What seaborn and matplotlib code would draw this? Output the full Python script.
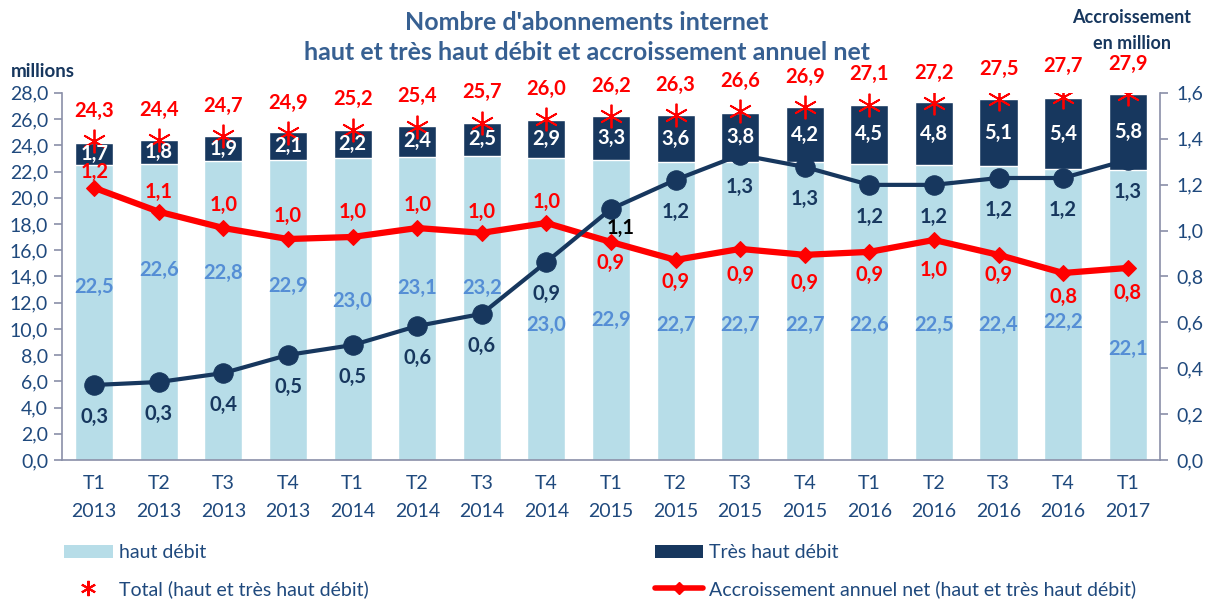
import numpy as np
import pandas as pd
import matplotlib
matplotlib.use("Agg")
import matplotlib.pyplot as plt
import seaborn as sns
from matplotlib.patches import Patch
from matplotlib.lines import Line2D

# ============================================================================
# DATA
# ============================================================================
quarters = ['T1', 'T2', 'T3', 'T4', 'T1', 'T2', 'T3', 'T4', 'T1', 'T2', 'T3', 'T4',
            'T1', 'T2', 'T3', 'T4', 'T1']
years = ['2013'] * 4 + ['2014'] * 4 + ['2015'] * 4 + ['2016'] * 4 + ['2017']
haut_debit = [22.5, 22.6, 22.8, 22.9, 23.0, 23.1, 23.2, 23.0, 22.9, 22.7, 22.7, 22.7,
              22.6, 22.5, 22.4, 22.2, 22.1]
tres_haut_debit = [1.7, 1.8, 1.9, 2.1, 2.2, 2.4, 2.5, 2.9, 3.3, 3.6, 3.8, 4.2,
                   4.5, 4.8, 5.1, 5.4, 5.8]
total = [24.3, 24.4, 24.7, 24.9, 25.2, 25.4, 25.7, 26.0, 26.2, 26.3, 26.6, 26.9,
         27.1, 27.2, 27.5, 27.7, 27.9]
accr_net = [1.186, 1.082, 1.011, 0.963, 0.972, 1.011, 0.990, 1.033, 0.950, 0.872,
            0.920, 0.894, 0.907, 0.959, 0.894, 0.815, 0.837]
accr_net_lbl = ['1,2', '1,1', '1,0', '1,0', '1,0', '1,0', '1,0', '1,0', '0,9', '0,9',
                '0,9', '0,9', '0,9', '1,0', '0,9', '0,8', '0,8']
accr_thd = [0.327, 0.340, 0.379, 0.458, 0.501, 0.584, 0.637, 0.863, 1.094, 1.221,
            1.330, 1.277, 1.199, 1.199, 1.229, 1.229, 1.308]
accr_thd_lbl = ['0,3', '0,3', '0,4', '0,5', '0,5', '0,6', '0,6', '0,9', '1,1', '1,2',
                '1,3', '1,3', '1,2', '1,2', '1,2', '1,2', '1,3']

# label placement (style only, pixels; negative = above the point)
hd_label_y = [13.2, 14.5, 14.3, 13.3, 12.1, 13.1, 13.1, 10.3, 10.7, 10.3, 10.3, 10.3,
              10.3, 10.3, 10.3, 10.5, 8.5]
net_offsets = [-16, -20, -23, -23, -25, -23, -21, -21, 21, 22, 26, 28, 23, 30, 20, 24, 25]

LIGHT = '#B7DDE8'
NAVY = '#17375E'
RED = '#FF0000'
TXT = '#1F497D'
TITLE = '#376092'
HD_TXT = '#558ED5'
AXC = '#8A8FA8'
FS = 14.5

def fmt(v):
    return f'{v:.1f}'.replace('.', ',')

sns.set_style("white")
plt.rcParams['font.family'] = ['Lato', 'DejaVu Sans']

cats = [f'{q}\n{y}' for q, y in zip(quarters, years)]
df = pd.DataFrame({'cat': cats, 'hd': haut_debit, 'thd': tres_haut_debit, 'total': total})
x = np.arange(len(cats))

fig = plt.figure(figsize=(12.1, 5.99), dpi=100)
ax = fig.add_axes([0.0512, 0.232, 0.9075, 0.613])

# stacked bars: full height in navy, then haut debit in light blue over it
df['stack'] = df['hd'] + df['thd']
sns.barplot(data=df, x='cat', y='stack', color=NAVY, saturation=1, width=0.59, ax=ax)
sns.barplot(data=df, x='cat', y='hd', color=LIGHT, saturation=1, width=0.59, ax=ax)

# totals
ax.plot(x, total, ls='none', marker=(6, 2, 0), ms=17, mew=1.3, color=RED, zorder=2)
for i, t in enumerate(total):
    ax.annotate(fmt(t), (i, t), xytext=(0, 22), textcoords='offset points',
                ha='center', va='center', color=RED, fontsize=FS, fontweight='bold')
for i in range(len(cats)):
    ax.text(i, haut_debit[i] + tres_haut_debit[i] / 2, fmt(tres_haut_debit[i]),
            ha='center', va='center', color='white', fontsize=FS, fontweight='bold', zorder=3)
    ax.text(i, hd_label_y[i], fmt(haut_debit[i]), ha='center', va='center',
            color=HD_TXT, fontsize=FS, fontweight='bold')

ax.set_xlim(-0.5, len(cats) - 0.5)
ax.set_ylim(0, 28)
ax.set_yticks(np.arange(0, 28.1, 2))
ax.set_yticklabels([fmt(v) for v in np.arange(0, 28.1, 2)])
ax.set_xlabel('')
ax.set_ylabel('')
ax.set_xticks(np.arange(-0.5, len(cats), 1), minor=True)
ax.tick_params(axis='x', which='major', length=0, pad=11, labelsize=14, labelcolor=TXT)
for lbl in ax.get_xticklabels():
    lbl.set_linespacing(1.75)
ax.tick_params(axis='x', which='minor', length=7, width=1.2, color=AXC, direction='out')
ax.tick_params(axis='y', length=6, width=1.2, color=AXC, direction='out',
               labelsize=14, labelcolor=TXT, pad=4)
for s in ['top', 'right']:
    ax.spines[s].set_visible(False)
for s in ['left', 'bottom']:
    ax.spines[s].set_color(AXC)
    ax.spines[s].set_linewidth(1.2)

# right axis: accroissements
ax2 = ax.twinx()
sns.lineplot(x=x, y=accr_net, color=RED, lw=4.5, marker='D', ms=8, mec=RED, ax=ax2, zorder=3)
sns.lineplot(x=x, y=accr_thd, color=NAVY, lw=3, marker='o', ms=14, mec=NAVY, ax=ax2, zorder=4)
for i, v in enumerate(accr_thd):
    if i == 8:
        ax2.annotate(accr_thd_lbl[i], (i, v), xytext=(7, -14), textcoords='offset points',
                     ha='center', va='center', color='black', fontsize=FS, fontweight='bold')
    else:
        ax2.annotate(accr_thd_lbl[i], (i, v), xytext=(0, -23), textcoords='offset points',
                     ha='center', va='center', color=NAVY, fontsize=FS, fontweight='bold')
for i, v in enumerate(accr_net):
    ax2.annotate(accr_net_lbl[i], (i, v), xytext=(0, -net_offsets[i] * 0.72),
                 textcoords='offset points', ha='center', va='center', color=RED,
                 fontsize=FS, fontweight='bold')
ax2.set_ylim(0, 1.6)
ax2.set_yticks(np.arange(0, 1.61, 0.2))
ax2.set_yticklabels([fmt(v) for v in np.arange(0, 1.61, 0.2)])
ax2.tick_params(axis='y', length=6, width=1.2, color=AXC, direction='out',
                labelsize=14, labelcolor=TXT, pad=6)
for s in ['top', 'left', 'bottom']:
    ax2.spines[s].set_visible(False)
ax2.spines['right'].set_color(AXC)
ax2.spines['right'].set_linewidth(1.2)
ax2.grid(False)
ax.grid(False)

# titles
fig.text(0.485, 0.962, "Nombre d'abonnements internet", ha='center', va='center',
         color=TITLE, fontsize=18, fontweight='bold')
fig.text(0.485, 0.912, "haut et très haut débit et accroissement annuel net", ha='center',
         va='center', color=TITLE, fontsize=18, fontweight='bold')
fig.text(0.009, 0.880, 'millions', ha='left', va='center', color=NAVY,
         fontsize=13.5, fontweight='bold')
fig.text(0.9355, 0.970, 'Accroissement', ha='center', va='center', color=NAVY,
         fontsize=13, fontweight='bold')
fig.text(0.9355, 0.928, 'en million', ha='center', va='center', color=NAVY,
         fontsize=13, fontweight='bold')

# legend
h_hd = Patch(facecolor=LIGHT, edgecolor='none')
h_tot = Line2D([], [], ls='none', marker=(6, 2, 0), ms=11, mew=1.5, color=RED)
h_thd = Patch(facecolor=NAVY, edgecolor='none')
h_net = Line2D([], [], color=RED, lw=4, marker='D', ms=6)
leg_kw = dict(frameon=False, fontsize=14, labelcolor=TXT, handlelength=2.5,
              handleheight=0.7, labelspacing=0.95, handletextpad=0.3, borderpad=0,
              borderaxespad=0)
fig.legend([h_hd, h_tot], ['haut débit', 'Total (haut et très haut débit)'],
           loc='upper left', bbox_to_anchor=(0.053, 0.091), **leg_kw)
fig.legend([h_thd, h_net], ['Très haut débit', 'Accroissement annuel net (haut et très haut débit)'],
           loc='upper left', bbox_to_anchor=(0.541, 0.091), **leg_kw)

fig.savefig('out.png', dpi=100)
